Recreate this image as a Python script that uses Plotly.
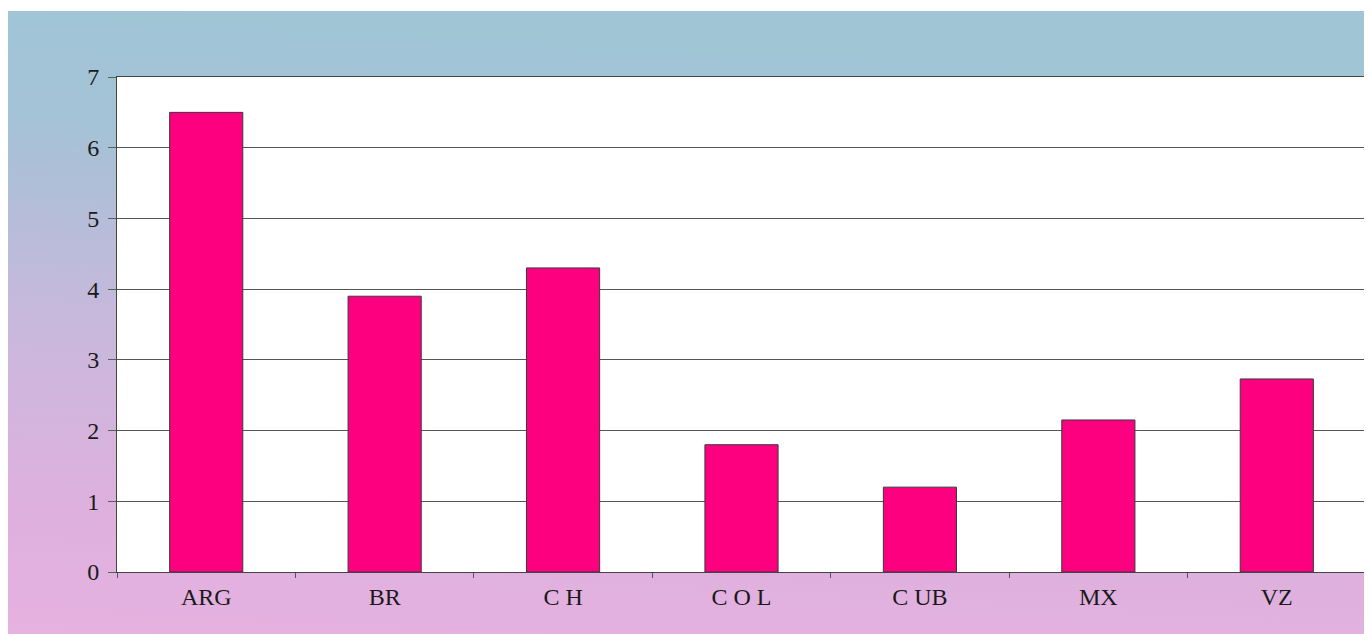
import base64
import plotly.graph_objects as go

categories = ["ARG", "BR", "CH", "COL", "CUB", "MX", "VZ"]
tick_labels = ["ARG", "BR", "C H", "C O L", "C UB", "MX", "VZ"]
values = [6.5, 3.9, 4.3, 1.8, 1.2, 2.15, 2.73]
y_ticks = [0, 1, 2, 3, 4, 5, 6, 7]

# page has an 8px body margin, so the figure is slightly smaller than the window
W, H = 1364, 626
ML, MR, MT, MB = 109, 6, 69, 62
PW, PH = W - ML - MR, H - MT - MB

fig = go.Figure()
fig.add_trace(go.Bar(
    x=categories, y=values, width=0.41,
    marker=dict(color="#fc0080", line=dict(color="#3a3a3a", width=1)),
    hoverinfo="x+y",
))

svg = (
    '<svg xmlns="http://www.w3.org/2000/svg" width="100" height="100" preserveAspectRatio="none">'
    '<defs><linearGradient id="g" x1="0.12" y1="0" x2="0" y2="1">'
    '<stop offset="0" stop-color="#a0c6d6"/>'
    '<stop offset="0.18" stop-color="#a4c2d6"/>'
    '<stop offset="0.5" stop-color="#c8b8dc"/>'
    '<stop offset="0.8" stop-color="#deb0de"/>'
    '<stop offset="1" stop-color="#e6b2e0"/>'
    '</linearGradient></defs>'
    '<rect width="100" height="100" fill="url(#g)"/></svg>'
)
src = "data:image/svg+xml;base64," + base64.b64encode(svg.encode()).decode()

# background image spanning the whole figure (paper coords extend into the margins)
fig.add_layout_image(dict(
    source=src, xref="paper", yref="paper",
    x=-ML / PW, y=1 + (MT - 3) / PH,
    sizex=W / PW, sizey=(H - 3) / PH,
    xanchor="left", yanchor="top", sizing="stretch", layer="below",
))

fig.update_layout(
    width=W, height=H,
    margin=dict(l=ML, r=MR, t=MT, b=MB),
    paper_bgcolor="white", plot_bgcolor="white",
    shapes=[dict(type="rect", xref="paper", yref="paper", x0=0, x1=1, y0=0, y1=1,
                 fillcolor="white", line=dict(width=0), layer="below")],
    showlegend=False,
    font=dict(family="Liberation Serif, Times New Roman, serif", color="#1a1a1a"),
)
fig.update_xaxes(
    tickmode="array", tickvals=categories, ticktext=tick_labels,
    tickfont=dict(size=24), ticks="outside", ticklen=5, tickcolor="#555",
    tickson="boundaries", showline=True, linecolor="#444", linewidth=1, mirror=True,
    showgrid=False, range=[-0.5, 6.5], ticklabelstandoff=3,
)
fig.update_yaxes(
    range=[0, 7], tickvals=y_ticks, tickfont=dict(size=24),
    ticks="outside", ticklen=8, tickcolor="#4a6a4a", ticklabelstandoff=4,
    showgrid=True, gridcolor="#555", gridwidth=1,
    showline=True, linecolor="#444", linewidth=1, mirror=True, zeroline=False,
)

fig.write_html("out.html")
